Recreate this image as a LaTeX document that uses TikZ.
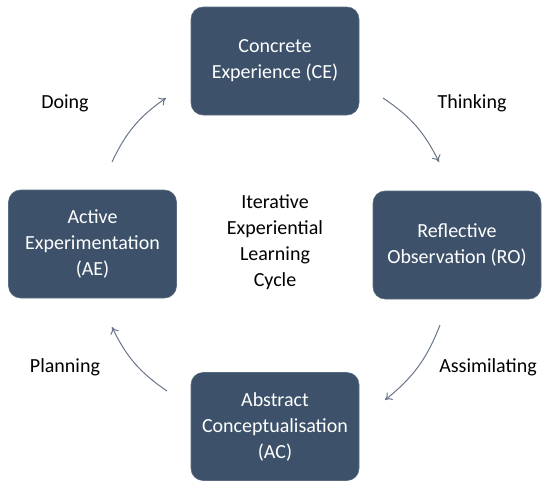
\documentclass[tikz,border=0pt]{standalone}
\usepackage{fontspec}
\setmainfont{Carlito}
\usetikzlibrary{arrows.meta}
\definecolor{boxblue}{RGB}{61,82,106}
\definecolor{arrowgrey}{RGB}{105,118,138}
\tikzset{
  stage/.style={draw=boxblue!85!white, fill=boxblue, rounded corners=9pt, minimum width=126pt, minimum height=81pt, text=white, align=center, inner sep=2pt, font=\fontsize{15}{19.5}\selectfont},
  phase/.style={text=black, inner sep=0.75pt, font=\fontsize{15}{19.5}\selectfont},
  cyclearrow/.style={draw=arrowgrey, line width=0.75pt, -{To[length=5pt,width=7pt]}}
}
\begin{document}
\begin{tikzpicture}[x=0.75pt,y=0.75pt,yscale=-1,xscale=1]
    \useasboundingbox (0,0) rectangle (550,490);

    % boxes
    \node [stage] (ce) at (275,61) {Concrete\\Experience (CE)};
    \node [stage] (ro) at (457,245) {Reflective\\Observation (RO)};
    \node [stage] (ac) at (275,426.5) {Abstract\\Conceptualisation\\(AC)};
    \node [stage] (ae) at (92.5,244) {Active\\Experimentation\\(AE)};

    % centre text
    \node [phase, align=center] (cycle) at (275,242) {Iterative\\Experiential\\Learning\\Cycle};

    % arrow ends
    \coordinate (doingS) at (112,162);
    \coordinate (doingE) at (166,98);
    \coordinate (thinkS) at (383,98);
    \coordinate (thinkE) at (439,162);
    \coordinate (assimS) at (440,325);
    \coordinate (assimE) at (385,400);
    \coordinate (planS) at (167,391);
    \coordinate (planE) at (112,327);

    \draw [cyclearrow] (doingS) to [bend right=15] (doingE);
    \draw [cyclearrow] (thinkS) to [bend right=15] (thinkE);
    \draw [cyclearrow] (assimS) to [bend right=15] (assimE);
    \draw [cyclearrow] (planS) to [bend right=15] (planE);

    % phase labels
    \node [phase] (doing) at (65,103) {Doing};
    \node [phase] (thinking) at (472,103) {Thinking};
    \node [phase] (assimilating) at (488,367) {Assimilating};
    \node [phase] (planning) at (65,367) {Planning};

\end{tikzpicture}
\end{document}
